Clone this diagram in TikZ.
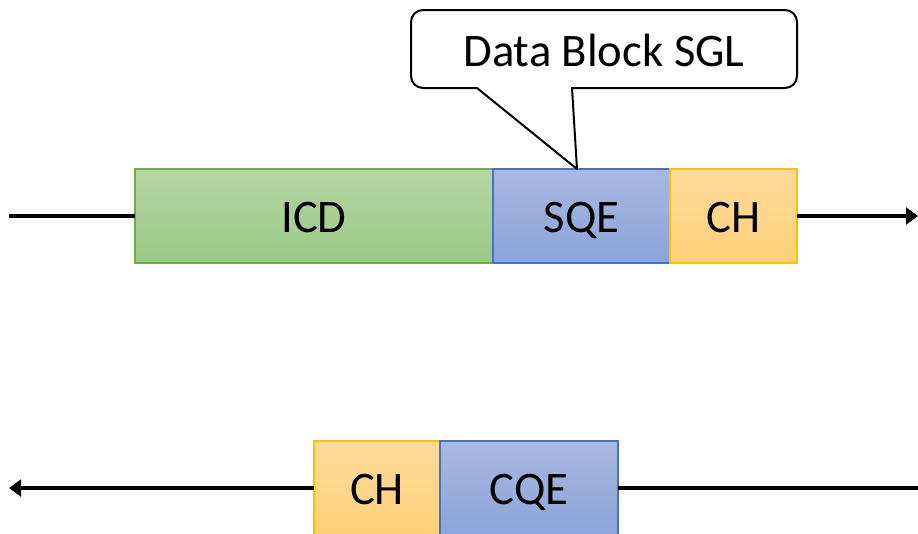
\documentclass[tikz,border=0pt]{standalone}
\usepackage{fontspec}
\setmainfont{Carlito}
\usetikzlibrary{arrows.meta}

\definecolor{grnTop}{HTML}{B4D6A4}
\definecolor{grnBot}{HTML}{9BC985}
\definecolor{grnLine}{HTML}{70AD47}
\definecolor{bluTop}{HTML}{A9B8E1}
\definecolor{bluBot}{HTML}{8BA4DA}
\definecolor{bluLine}{HTML}{4472C4}
\definecolor{orgTop}{HTML}{FFDA9C}
\definecolor{orgBot}{HTML}{FFD077}
\definecolor{orgLine}{HTML}{FFC000}

\tikzset{
  field/.style={anchor=north west, inner sep=0pt, outer sep=0pt,
    line width=1.2pt, minimum height=70.5pt,
    text height=24pt, text depth=0pt,
    font=\fontsize{35}{42}\selectfont},
  green field/.style={field, draw=grnLine, top color=grnTop, bottom color=grnBot},
  blue field/.style={field, draw=bluLine, top color=bluTop, bottom color=bluBot},
  orange field/.style={field, draw=orgLine, top color=orgTop, bottom color=orgBot},
  flow/.style={line width=2.9pt, black},
  flowtip/.style={flow, -{Triangle[length=9pt, width=12.5pt]}},
  callout/.style={line width=1.5pt, black, fill=white, line join=round}
}

\begin{document}
\begin{tikzpicture}[x=0.75pt, y=-0.75pt]
  \useasboundingbox (0,0) rectangle (918,533);
  \clip (0,0) rectangle (918,533);

  % submission queue entry layout
  \node[green field, minimum width=268.5pt] (icd) at (135,169) {ICD};
  \node[blue field, minimum width=132.75pt] (sqe) at (icd.north east) {SQE};
  \node[orange field, minimum width=95.25pt] (ch) at (sqe.north east) {CH};

  \coordinate (inL) at (9,216);
  \coordinate (outR) at (918,216);
  \draw[flow] (inL) -- (icd.west);
  \draw[flowtip] (ch.east) -- (outR);

  % completion queue entry layout
  \node[orange field, minimum width=94.5pt] (ch2) at (314,441) {CH};
  \node[blue field, minimum width=133.5pt] (cqe) at (ch2.north east) {CQE};

  \coordinate (inR) at (918,488);
  \coordinate (outL) at (9,488);
  \draw[flow] (inR) -- (cqe.east);
  \draw[flowtip] (ch2.west) -- (outL);

  % speech-bubble callout pointing at the SQE
  \coordinate (tip) at (577,169);
  \draw[callout] (tip) -- (572,88)
    [rounded corners=9pt] -- (797,88) -- (797,10) -- (411,10) -- (411,88)
    [sharp corners] -- (477,88) -- cycle;
  \node[font=\fontsize{35}{42}\selectfont, inner sep=0pt] (sgl) at (604,50) {Data Block SGL};
\end{tikzpicture}
\end{document}
